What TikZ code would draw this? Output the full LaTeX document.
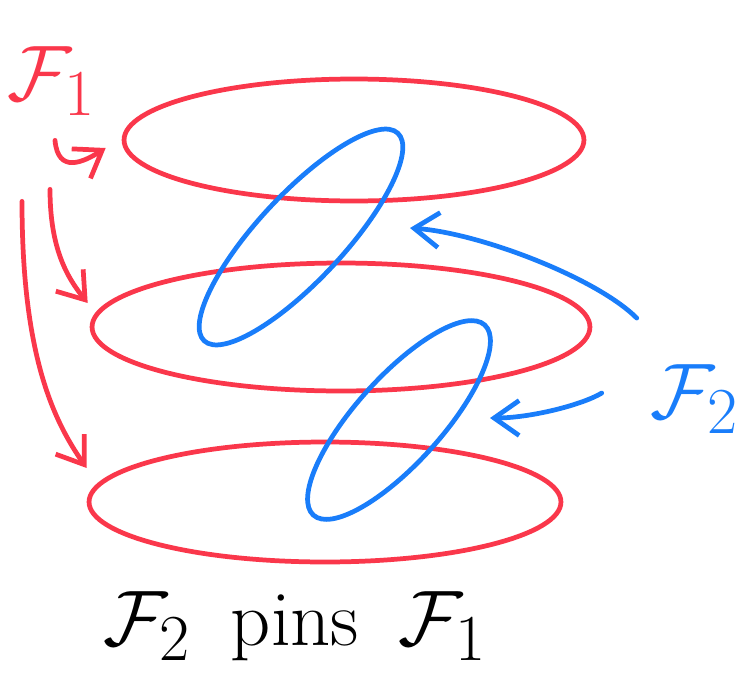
\documentclass[tikz,border=0pt]{standalone}
\usetikzlibrary{shapes.geometric,arrows.meta}

\definecolor{handred}{RGB}{250,55,75}
\definecolor{handblue}{RGB}{25,125,250}

\begin{document}
\begin{tikzpicture}[
% first : the style of the scheme
    x=0.02cm, y=0.02cm,
    ring/.style={
        ellipse,
        draw,
        line width=2.7pt,
        inner sep=0pt
    },
    redring/.style={ring, draw=handred},
    bluering/.style={ring, draw=handblue},
    pointer/.style={
        line width=2.7pt,
        line cap=round,
        -{Straight Barb[length=0.5cm,width=0.7cm]}
    },
    label/.style={font=\Huge, scale=1.8, anchor=base}
]
\useasboundingbox (0,0) rectangle (744,-700);

% layers of the first foliation
\node[redring, minimum width=9.2cm, minimum height=2.44cm] (ringA) at (354,-140) {};
\node[redring, minimum width=9.96cm, minimum height=2.56cm] (ringB) at (341,-327) {};
\node[redring, minimum width=9.44cm, minimum height=2.4cm] (ringC) at (325,-502) {};

% leaves of the second one
\node[bluering, minimum width=5.68cm, minimum height=1.72cm, rotate=47] (loopA) at (301,-237) {};
\node[bluering, minimum width=5.12cm, minimum height=1.72cm, rotate=48] (loopB) at (399,-420) {};

% names
\node[label, text=handred] (fone) at (52,-100) {$\mathcal{F}_1$};
\node[label, text=handblue] (ftwo) at (695,-418) {$\mathcal{F}_2$};
\node[label] (caption) at (295,-645)
    {$\mathcal{F}_2$\hspace{0.5em}pins\hspace{0.5em}$\mathcal{F}_1$};

% links
\draw[pointer, handred] ([shift={(3,-14)}]fone.south)
    .. controls +(3,-34) and +(-22,-14) .. ([shift={(-16,-8)}]ringA.west);
\draw[pointer, handred] ([shift={(-2,-63)}]fone.south)
    .. controls +(0,-60) and +(-20,25) .. ([shift={(-2,24)}]ringB.west);
\draw[pointer, handred] ([shift={(-30,-75)}]fone.south)
    .. controls +(0,-150) and +(-35,50) .. ([shift={(0,34)}]ringC.west);

\draw[pointer, handblue] ([shift={(-3,35)}]ftwo.north west)
    .. controls +(-40,40) and +(70,-5) .. ([shift={(109,9)}]loopA.center);
\draw[pointer, handblue] ([shift={(-38,-40)}]ftwo.north west)
    .. controls +(-20,-12) and +(40,0) .. ([shift={(91,2)}]loopB.center);

\end{tikzpicture}
\end{document}
